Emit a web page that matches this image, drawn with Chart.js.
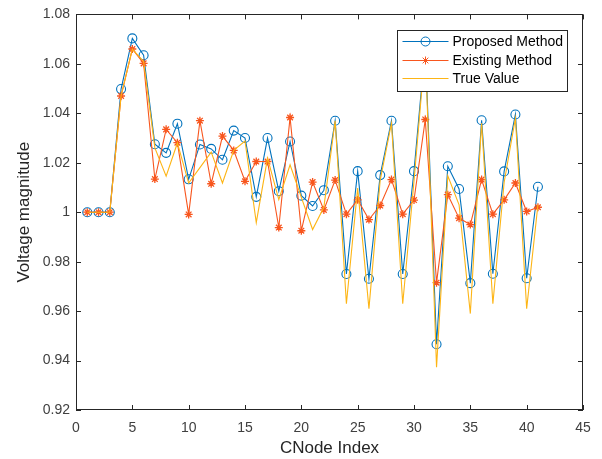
<!DOCTYPE html>
<html lang="en">
<head>
    <meta charset="UTF-8">
    <title>Voltage magnitude per node</title>
    <script src="https://cdn.jsdelivr.net/npm/chart.js"></script>
    <style>
        body {
            margin: 0;
            padding: 0;
            background: #fff;
        }
        #wrap {
            width: 602px;
            height: 459px;
        }
    </style>
</head>
<body>
    <div id="wrap"><canvas id="voltageChart" width="602" height="459"></canvas></div>

    <script>
        // Node numbers on the x axis
        const nodeIndex = [1, 2, 3, 4, 5, 6, 7, 8, 9, 10,
            11, 12, 13, 14, 15, 16, 17, 18, 19, 20,
            21, 22, 23, 24, 25, 26, 27, 28, 29, 30,
            31, 32, 33, 34, 35, 36, 37, 38, 39, 40, 41];

        // Voltage magnitude
        const proposed = [1.000, 1.000, 1.000, 1.0498, 1.0703, 1.0635, 1.0275, 1.0240, 1.0358, 1.0133,
            1.0274, 1.0256, 1.0212, 1.0330, 1.0300, 1.0062, 1.0300, 1.0085, 1.0286, 1.0067,
            1.0025, 1.0089, 1.0370, 0.9750, 1.0166, 0.9731, 1.0150, 1.0370, 0.9750, 1.0166,
            1.0670, 0.9466, 1.0186, 1.0094, 0.9713, 1.0372, 0.9751, 1.0165, 1.0395, 0.9733, 1.0103];

        const existing = [1.000, 1.000, 1.000, 1.0470, 1.0660, 1.0602, 1.0134, 1.0335, 1.0281, 0.9991,
            1.0370, 1.0115, 1.0308, 1.0250, 1.0125, 1.0205, 1.0205, 0.9938, 1.0383, 0.9925,
            1.0122, 1.0009, 1.0130, 0.9992, 1.0050, 0.9970, 1.0027, 1.0132, 0.9992, 1.0049,
            1.0375, 0.9715, 1.0071, 0.9976, 0.9950, 1.0132, 0.9992, 1.0050, 1.0118, 1.0003, 1.0020];

        const trueValue = [1.000, 1.000, 1.000, 1.0470, 1.0660, 1.0610, 1.0260, 1.0146, 1.0280, 1.0118,
            1.0180, 1.0243, 1.0118, 1.0250, 1.0288, 0.9958, 1.0219, 1.0051, 1.0192, 1.0060,
            0.9930, 1.0020, 1.0370, 0.9630, 1.0098, 0.9610, 1.0130, 1.0360, 0.9630, 1.0125,
            1.0660, 0.9373, 1.0147, 1.0030, 0.9590, 1.0360, 0.9630, 1.0120, 1.0380, 0.9610, 1.0030];

        // Tick labels
        const xTicks = [0, 5, 10, 15, 20, 25, 30, 35, 40, 45];
        const yTicks = [0.92, 0.94, 0.96, 0.98, 1.00, 1.02, 1.04, 1.06, 1.08];

        const seriesNames = ['Proposed Method', 'Existing Method', 'True Value'];

        const BLUE = '#0072BD';
        const ORANGE = '#F8561E';
        const YELLOW = '#FDB515';
        const AXIS = '#262626';
        const FONT = '"Liberation Sans", Arial, sans-serif';

        function toPoints(values) {
            return nodeIndex.map((n, i) => ({ x: n, y: values[i] }));
        }

        // box round the plot with inward ticks on all four sides
        const framePlugin = {
            id: 'frame',
            afterDatasetsDraw(chart) {
                const { ctx, chartArea: a, scales } = chart;
                ctx.save();
                ctx.strokeStyle = AXIS;
                ctx.lineWidth = 1;
                ctx.strokeRect(Math.round(a.left) + 0.5, Math.round(a.top) + 0.5,
                    Math.round(a.width) - 1, Math.round(a.height) - 1);
                ctx.beginPath();
                xTicks.forEach(v => {
                    const px = Math.round(scales.x.getPixelForValue(v)) + 0.5;
                    ctx.moveTo(px, a.bottom);
                    ctx.lineTo(px, a.bottom - 5);
                    ctx.moveTo(px, a.top);
                    ctx.lineTo(px, a.top + 5);
                });
                yTicks.forEach(v => {
                    const py = Math.round(scales.y.getPixelForValue(v)) + 0.5;
                    ctx.moveTo(a.left, py);
                    ctx.lineTo(a.left + 5, py);
                    ctx.moveTo(a.right, py);
                    ctx.lineTo(a.right - 5, py);
                });
                ctx.stroke();
                ctx.restore();
            }
        };

        // legend box in the top right corner of the axes
        const legendPlugin = {
            id: 'boxLegend',
            afterDraw(chart) {
                const { ctx, chartArea: a } = chart;
                const w = 170, h = 61;
                const left = Math.round(a.right - 16 - w) + 0.5;
                const top = Math.round(a.top + 16) + 0.5;
                ctx.save();
                ctx.fillStyle = '#fff';
                ctx.fillRect(left, top, w, h);
                ctx.strokeStyle = AXIS;
                ctx.lineWidth = 1;
                ctx.strokeRect(left, top, w, h);

                const rows = [11, 30, 48];
                const colors = [BLUE, ORANGE, YELLOW];
                rows.forEach((dy, i) => {
                    const y = top + dy;
                    ctx.strokeStyle = colors[i];
                    ctx.lineWidth = 1;
                    ctx.beginPath();
                    ctx.moveTo(left + 5, y);
                    ctx.lineTo(left + 51, y);
                    ctx.stroke();
                    const mx = left + 28;
                    if (i === 0) {
                        ctx.beginPath();
                        ctx.arc(mx, y, 4.5, 0, Math.PI * 2);
                        ctx.stroke();
                    } else if (i === 1) {
                        ctx.beginPath();
                        const r = 4;
                        ctx.moveTo(mx - r, y); ctx.lineTo(mx + r, y);
                        ctx.moveTo(mx, y - r); ctx.lineTo(mx, y + r);
                        const d = r * Math.SQRT1_2;
                        ctx.moveTo(mx - d, y - d); ctx.lineTo(mx + d, y + d);
                        ctx.moveTo(mx - d, y + d); ctx.lineTo(mx + d, y - d);
                        ctx.stroke();
                    }
                    ctx.fillStyle = '#000';
                    ctx.font = '14px ' + FONT;
                    ctx.textBaseline = 'middle';
                    ctx.textAlign = 'left';
                    ctx.fillText(seriesNames[i], left + 55, y + 1);
                });
                ctx.restore();
            }
        };

        const ctx = document.getElementById('voltageChart').getContext('2d');
        const voltageChart = new Chart(ctx, {
            type: 'line',
            data: {
                datasets: [{
                    label: seriesNames[0],
                    data: toPoints(proposed),
                    borderColor: BLUE,
                    borderWidth: 1.1,
                    pointStyle: 'circle',
                    pointRadius: 4.5,
                    pointBorderWidth: 1.1,
                    pointBorderColor: BLUE,
                    pointBackgroundColor: 'rgba(0,0,0,0)',
                    tension: 0,
                    order: 2,
                }, {
                    label: seriesNames[1],
                    data: toPoints(existing),
                    borderColor: ORANGE,
                    borderWidth: 1.1,
                    pointStyle: 'star',
                    pointRadius: 4,
                    pointBorderWidth: 1.3,
                    pointBorderColor: ORANGE,
                    pointBackgroundColor: ORANGE,
                    tension: 0,
                    order: 1,
                }, {
                    label: seriesNames[2],
                    data: toPoints(trueValue),
                    borderColor: YELLOW,
                    borderWidth: 1.1,
                    pointRadius: 0,
                    tension: 0,
                    order: 0,
                }],
            },
            options: {
                responsive: false,
                animation: false,
                layout: {
                    padding: { top: 9, right: 19, left: 0, bottom: 0 },
                },
                plugins: {
                    legend: { display: false },
                    tooltip: { enabled: false },
                },
                scales: {
                    x: {
                        type: 'linear',
                        min: 0,
                        max: 45,
                        afterBuildTicks: scale => {
                            scale.ticks = xTicks.map(v => ({ value: v }));
                        },
                        afterFit: scale => { scale.height = 49; },
                        grid: { display: false, drawTicks: false },
                        border: { display: false },
                        ticks: {
                            color: '#404040',
                            padding: 10,
                            maxRotation: 0,
                            font: { family: FONT, size: 14 },
                        },
                        title: {
                            display: true,
                            text: 'CNode Index',
                            color: '#262626',
                            padding: { top: 0, bottom: 0 },
                            font: { family: FONT, size: 17 },
                        },
                    },
                    y: {
                        min: 0.92,
                        max: 1.08,
                        afterBuildTicks: scale => {
                            scale.ticks = yTicks.map(v => ({ value: v }));
                        },
                        afterFit: scale => { scale.width = 76; },
                        grid: { display: false, drawTicks: false },
                        border: { display: false },
                        ticks: {
                            color: '#404040',
                            padding: 6,
                            font: { family: FONT, size: 14 },
                            callback: v => String(Number(v.toFixed(2))),
                        },
                        title: {
                            display: true,
                            text: 'Voltage magnitude',
                            color: '#262626',
                            padding: { top: 14, bottom: 0 },
                            font: { family: FONT, size: 17 },
                        },
                    },
                },
            },
            plugins: [framePlugin, legendPlugin],
        });
    </script>
</body>
</html>
